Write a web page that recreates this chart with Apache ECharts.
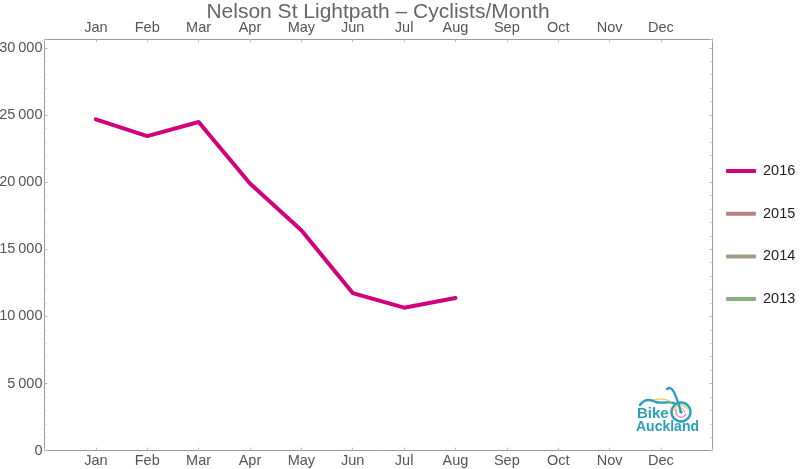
<!DOCTYPE html>
<html>
<head>
<meta charset="utf-8">
<script src="https://cdn.jsdelivr.net/npm/echarts@6/dist/echarts.min.js"></script>
<style>html,body{margin:0;padding:0;background:#fff}#c{width:800px;height:469px}</style>
</head>
<body>
<div id="c"></div>
<script>
const months = ['Jan','Feb','Mar','Apr','May','Jun','Jul','Aug','Sep','Oct','Nov','Dec'];
const years = ['2016','2015','2014','2013'];
const values2016 = [24680, 23430, 24480, 19900, 16420, 11740, 10650, 11370];
const values2015 = [];
const values2014 = [];
const values2013 = [];
const yTicks = [0, 5000, 10000, 15000, 20000, 25000, 30000];
const colors = ['#D1007D', '#B88081', '#A69B84', '#87B07F'];
const seriesValues = [values2016, values2015, values2014, values2013];

const FONT = 'Liberation Sans, Arial, Helvetica, sans-serif';
const chart = echarts.init(document.getElementById('c'), null, {renderer: 'canvas'});

function fmtY(v) {
  if (yTicks.indexOf(v) < 0) return '';
  const s = String(v);
  return s.length > 3 ? s.slice(0, s.length - 3) + '\u2009' + s.slice(-3) : s;
}
function fmtX(v) {
  return (v >= 1 && v <= 12) ? months[v - 1] : '';
}
const axisLine = {show: true, onZero: false, lineStyle: {color: '#9a9a9a', width: 1}};
const xCommon = {
  type: 'value', min: 0, max: 13, interval: 1,
  axisLine: axisLine,
  axisTick: {show: true, inside: true, length: 3, lineStyle: {color: '#bbb'}},
  splitLine: {show: false},
  axisLabel: {formatter: fmtX, color: '#555', fontSize: 14.5, fontFamily: FONT}
};
const yCommon = {
  type: 'value', min: 0, max: 30660, interval: 5000,
  axisLine: axisLine,
  axisTick: {show: true, inside: true, length: 3, lineStyle: {color: '#bbb'}},
  minorTick: {show: true, splitNumber: 5, length: 2, lineStyle: {color: '#ccc'}},
  splitLine: {show: false},
  minorSplitLine: {show: false}
};
const TEAL = '#2C9FBC';

chart.setOption({
  animation: false,
  backgroundColor: '#fff',
  title: {
    text: 'Nelson St Lightpath \u2013 Cyclists/Month',
    left: 378, top: 2, textAlign: 'center', padding: 0,
    textStyle: {color: '#666', fontSize: 21, fontWeight: 'normal', fontFamily: FONT}
  },
  legend: {
    orient: 'vertical', left: 726, top: 163.5, padding: 0,
    itemWidth: 30, itemHeight: 4, itemGap: 27.7,
    icon: 'roundRect',
    data: years,
    textStyle: {color: '#222', fontSize: 14.5, lineHeight: 14, fontFamily: FONT, padding: [0, 0, 0, 2]}
  },
  grid: {left: 44.5, right: 87.7, top: 39, bottom: 18.3, containLabel: false, outerBoundsMode: 'none'},
  xAxis: [
    Object.assign({}, xCommon, {position: 'bottom', axisLabel: Object.assign({}, xCommon.axisLabel, {margin: 3})}),
    Object.assign({}, xCommon, {position: 'top', axisLabel: Object.assign({}, xCommon.axisLabel, {margin: 4})})
  ],
  yAxis: [
    Object.assign({}, yCommon, {position: 'left',
      axisLabel: {formatter: fmtY, color: '#555', fontSize: 14.5, fontFamily: FONT, margin: 2, showMaxLabel: false}}),
    Object.assign({}, yCommon, {position: 'right', axisLabel: {show: false}})
  ],
  series: years.map((y, i) => ({
    name: y, type: 'line', xAxisIndex: 0, yAxisIndex: 0,
    data: seriesValues[i].map((v, k) => [k + 1, v]),
    showSymbol: false, symbol: 'none',
    itemStyle: {color: colors[i]},
    lineStyle: {color: colors[i], width: 4, cap: 'round', join: 'round'}
  })),
  graphic: [
    {type: 'group', x: 634, y: 386, children: [
      {type: 'arc', shape: {cx: 47, cy: 26, r: 9.5}, style: {stroke: TEAL, lineWidth: 2.4, fill: null}},
      {type: 'arc', shape: {cx: 47, cy: 26, r: 7, startAngle: 3.3, endAngle: 5.9}, style: {stroke: '#F2C94C', lineWidth: 1.3, fill: null}},
      {type: 'arc', shape: {cx: 47, cy: 26, r: 5.2, startAngle: 0.3, endAngle: 3.8}, style: {stroke: '#E88BB5', lineWidth: 1.3, fill: null}},
      {type: 'arc', shape: {cx: 47, cy: 26, r: 3.6, startAngle: 4.0, endAngle: 6.6}, style: {stroke: '#F5A9C8', lineWidth: 1.1, fill: null}},
      {type: 'circle', shape: {cx: 47, cy: 26, r: 1.6}, style: {fill: TEAL}},
      {type: 'bezierCurve', shape: {x1: 6, y1: 19, cpx1: 10, cpy1: 13, cpx2: 16, cpy2: 13, x2: 22, y2: 16}, style: {stroke: TEAL, lineWidth: 2.4, fill: null, lineCap: 'round'}},
      {type: 'bezierCurve', shape: {x1: 22, y1: 16, cpx1: 28, cpy1: 18, cpx2: 34, cpy2: 15, x2: 40, y2: 17}, style: {stroke: TEAL, lineWidth: 2.4, fill: null, lineCap: 'round'}},
      {type: 'bezierCurve', shape: {x1: 33, y1: 3, cpx1: 37, cpy1: 0, cpx2: 40, cpy2: 2, x2: 47, y2: 26}, style: {stroke: TEAL, lineWidth: 2.4, fill: null, lineCap: 'round'}},
      {type: 'bezierCurve', shape: {x1: 20, y1: 14, cpx1: 26, cpy1: 12, cpx2: 32, cpy2: 13, x2: 38, y2: 16}, style: {stroke: '#F2C94C', lineWidth: 1.2, fill: null}},
      {type: 'text', x: 3, y: 20, style: {text: 'Bike', fill: TEAL, font: 'bold 15px ' + FONT}},
      {type: 'text', x: 2, y: 34, style: {text: 'Auckland', fill: TEAL, font: 'bold 14px ' + FONT}}
    ]}
  ]
});
</script>
</body>
</html>
